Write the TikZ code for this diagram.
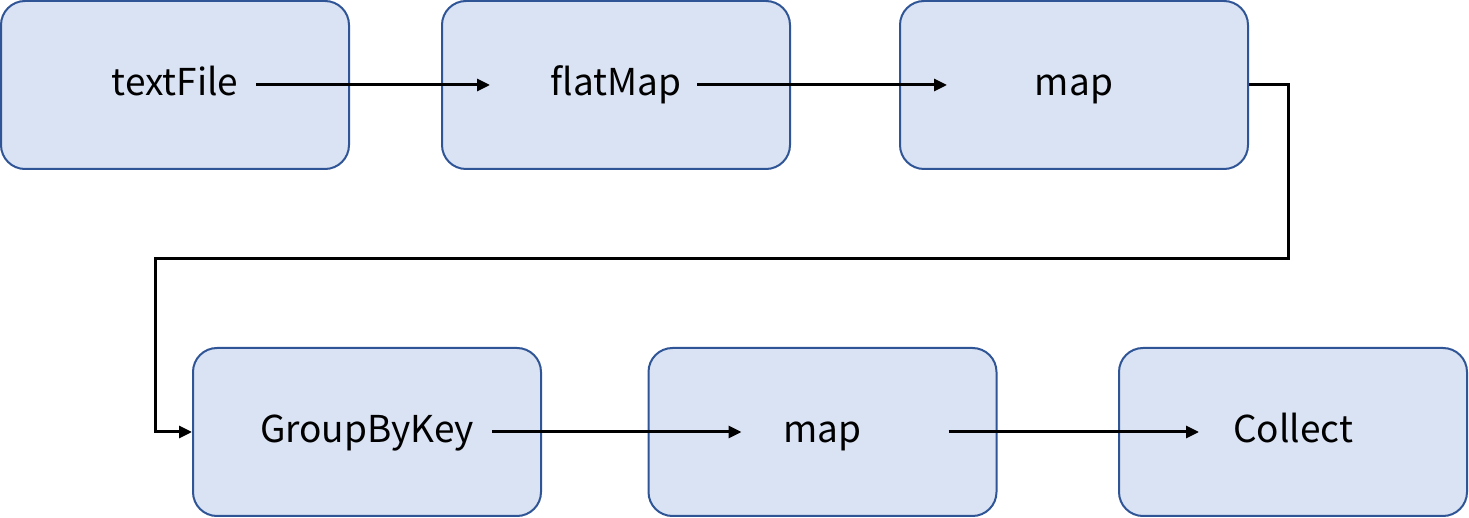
\documentclass[tikz,border=0pt]{standalone}
\usepackage{fontspec}
\setmainfont{Noto Sans CJK JP}
\usepackage{xcolor}
\usepackage{tikz}
\usetikzlibrary{positioning, arrows.meta}

\definecolor{boxfill}{HTML}{DAE3F3}
\definecolor{boxline}{HTML}{2F5597}

\begin{document}
\begin{tikzpicture}[x=0.5pt, y=-0.5pt,
  stage/.style={draw=boxline, fill=boxfill, line width=1pt, rounded corners=12pt,
    minimum width=174pt, minimum height=84pt, inner sep=0pt,
    text height=11pt, text depth=0pt,
    font=\fontsize{18.5}{22}\selectfont},
  flow/.style={line width=1.5pt, -{Triangle[length=6.5pt, width=6pt]}}]
\useasboundingbox (0,0) rectangle (1469,518);
% first row
\node[stage] (txt) at (175,85) {textFile};
\node[stage] (flat) at (616,85) {flatMap};
\node[stage] (mapa) at (1074,85) {map};
% second row
\node[stage] (grp) at (367,432) {GroupByKey};
\node[stage] (mapb) at (822.5,432) {map};
\node[stage] (coll) at (1293,432) {Collect};
% connectors
\draw[flow] ([xshift=-47pt]txt.east) -- ([xshift=24.5pt]flat.west);
\draw[flow] ([xshift=-47pt]flat.east) -- ([xshift=24pt]mapa.west);
\draw[flow, sharp corners] (mapa.east) -- ++(39,0) -- ++(0,174) -| ([xshift=-18.5pt]grp.west) -- (grp.west);
\draw[flow] ([xshift=-25pt]grp.east) -- ([xshift=47pt]mapb.west);
\draw[flow] ([xshift=-24.5pt]mapb.east) -- ([xshift=40.5pt]coll.west);
\end{tikzpicture}
\end{document}
